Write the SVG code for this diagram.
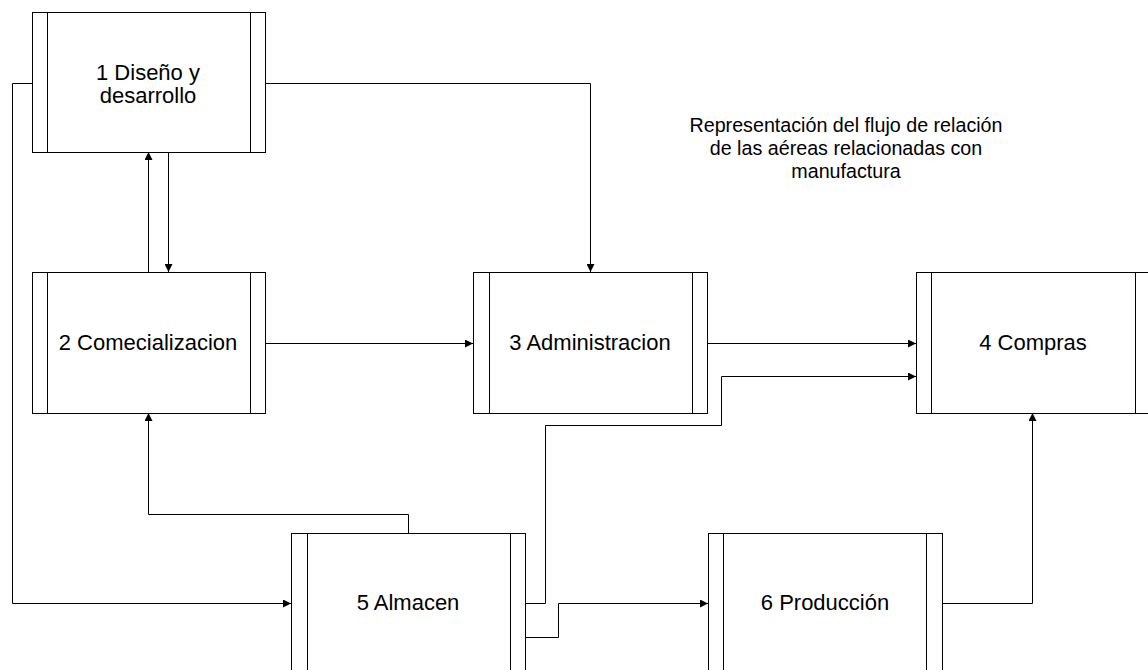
<svg xmlns="http://www.w3.org/2000/svg" width="1148" height="670" viewBox="0 0 1148 670">
  <style>
    .box { fill: #fff; stroke: #000; stroke-width: 1; }
    .bar { stroke: #000; stroke-width: 1; fill: none; }
    .lbl { font-family: "Liberation Sans", Arial, sans-serif; font-size: 22px; fill: #000; text-anchor: middle; }
    .cap { font-family: "Liberation Sans", Arial, sans-serif; font-size: 19.7px; fill: #000; text-anchor: middle; }
    .wire { fill: none; stroke: #000; stroke-width: 1; }
  </style>
  <defs>
    <marker id="arrow" viewBox="0 0 10 10" refX="10" refY="5" markerWidth="10" markerHeight="8" markerUnits="userSpaceOnUse" orient="auto">
      <path d="M0,0 L10,5 L0,10 Z" fill="#000"/>
    </marker>
  </defs>
  <rect width="1148" height="670" fill="#fff"/>

  <!-- connectors -->
  <g id="connectors">
    <path class="wire" d="M32.5,83.5 H12.5 V603.5 H291" marker-end="url(#arrow)"/>
    <path class="wire" d="M265,83.5 H590.5 V272" marker-end="url(#arrow)"/>
    <path class="wire" d="M148.5,272 V152" marker-end="url(#arrow)"/>
    <path class="wire" d="M168.5,152 V272" marker-end="url(#arrow)"/>
    <path class="wire" d="M265,343.5 H473" marker-end="url(#arrow)"/>
    <path class="wire" d="M708,343.5 H916" marker-end="url(#arrow)"/>
    <path class="wire" d="M526,603.5 H545.5 V425.5 H721.5 V376.5 H916" marker-end="url(#arrow)"/>
    <path class="wire" d="M526,637.5 H558.5 V603.5 H708" marker-end="url(#arrow)"/>
    <path class="wire" d="M942,603.5 H1032.5 V413" marker-end="url(#arrow)"/>
    <path class="wire" d="M408.5,533 V514.5 H148.5 V413" marker-end="url(#arrow)"/>
  </g>

  <!-- 1 Diseño y desarrollo -->
  <g id="node1">
    <rect class="box" x="32.5" y="12.5" width="233" height="140"/>
    <path class="bar" d="M47.5,12.5 V152.5 M250.5,12.5 V152.5"/>
    <text class="lbl" x="148" y="80">1 Diseño y</text>
    <text class="lbl" x="148" y="103">desarrollo</text>
  </g>

  <!-- 2 Comecializacion -->
  <g id="node2">
    <rect class="box" x="32.5" y="272.5" width="233" height="141"/>
    <path class="bar" d="M47.5,272.5 V413.5 M250.5,272.5 V413.5"/>
    <text class="lbl" x="148" y="350">2 Comecializacion</text>
  </g>

  <!-- 3 Administracion -->
  <g id="node3">
    <rect class="box" x="473.5" y="272.5" width="234" height="141"/>
    <path class="bar" d="M489.5,272.5 V413.5 M692.5,272.5 V413.5"/>
    <text class="lbl" x="590" y="350">3 Administracion</text>
  </g>

  <!-- 4 Compras -->
  <g id="node4">
    <rect class="box" x="916.5" y="272.5" width="234" height="141"/>
    <path class="bar" d="M931.5,272.5 V413.5 M1135.5,272.5 V413.5"/>
    <text class="lbl" x="1033" y="350">4 Compras</text>
  </g>

  <!-- 5 Almacen -->
  <g id="node5">
    <rect class="box" x="291.5" y="533.5" width="234" height="141"/>
    <path class="bar" d="M307.5,533.5 V674.5 M510.5,533.5 V674.5"/>
    <text class="lbl" x="408" y="610">5 Almacen</text>
  </g>

  <!-- 6 Producción -->
  <g id="node6">
    <rect class="box" x="708.5" y="533.5" width="234" height="141"/>
    <path class="bar" d="M723.5,533.5 V674.5 M926.5,533.5 V674.5"/>
    <text class="lbl" x="825" y="610">6 Producción</text>
  </g>

  <!-- caption -->
  <g id="caption">
    <text class="cap" x="846" y="132">Representación del flujo de relación</text>
    <text class="cap" x="846" y="155">de las aéreas relacionadas con</text>
    <text class="cap" x="846" y="178">manufactura</text>
  </g>
</svg>
